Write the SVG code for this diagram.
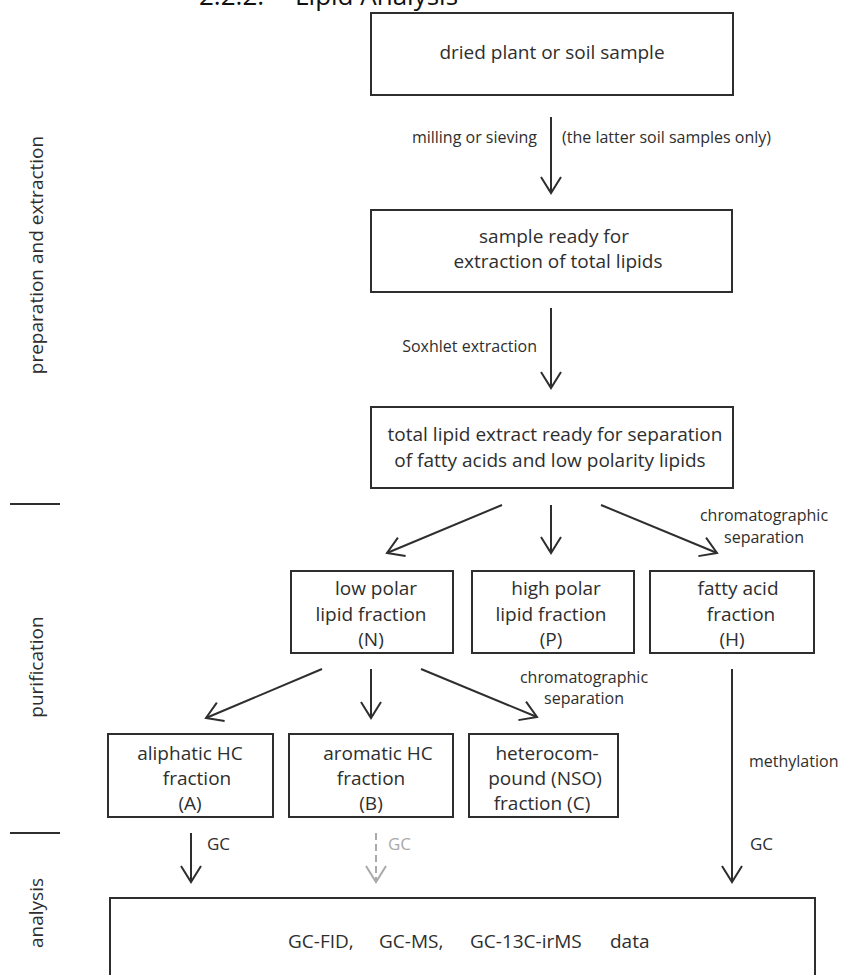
<svg xmlns="http://www.w3.org/2000/svg" width="842" height="975" viewBox="0 0 842 975">
<style>
  .box{fill:none;stroke:#2e2e2e;stroke-width:2}
  .t{font-family:"Open Sans","Liberation Sans",sans-serif;font-size:19px;fill:#2e2e2e;text-anchor:middle}
  .s{font-family:"Open Sans","Liberation Sans",sans-serif;font-size:16px;fill:#2e2e2e}
  .g{font-family:"Open Sans","Liberation Sans",sans-serif;font-size:17px;fill:#2e2e2e}
  .ln{fill:none;stroke:#2e2e2e;stroke-width:2;marker-end:url(#ah)}
  .side{font-family:"Open Sans","Liberation Sans",sans-serif;font-size:19px;fill:#2e2e2e;text-anchor:middle}
  .sep{stroke:#2e2e2e;stroke-width:2}
</style>
<defs>
  <marker id="ah" viewBox="-18 -12 20 24" refX="0" refY="0" markerWidth="20" markerHeight="24" orient="auto" markerUnits="userSpaceOnUse">
    <path d="M-16,-10 L0,0 L-16,10" fill="none" stroke="#2e2e2e" stroke-width="2"/>
  </marker>
  <marker id="ahg" viewBox="-18 -12 20 24" refX="0" refY="0" markerWidth="20" markerHeight="24" orient="auto" markerUnits="userSpaceOnUse">
    <path d="M-16,-10 L0,0 L-16,10" fill="none" stroke="#aaaaaa" stroke-width="2"/>
  </marker>
</defs>
<rect width="842" height="975" fill="#ffffff"/>

<text font-family="'Open Sans','Liberation Sans',sans-serif" font-size="26" fill="#111"><tspan x="199" y="5">2.2.2.</tspan><tspan x="295" y="5">Lipid Analysis</tspan></text>

<g id="side-labels">
  <text class="side" transform="translate(43,255) rotate(-90)">preparation and extraction</text>
  <text class="side" transform="translate(43,667) rotate(-90)">purification</text>
  <text class="side" transform="translate(43,913) rotate(-90)">analysis</text>
  <line class="sep" x1="10" y1="504" x2="60" y2="504"/>
  <line class="sep" x1="10" y1="833" x2="60" y2="833"/>
</g>

<g id="n-sample">
  <rect class="box" x="371" y="13" width="362" height="82"/>
  <text class="t" x="552" y="59">dried plant or soil sample</text>
</g>
<g id="n-ready">
  <rect class="box" x="371" y="210" width="361" height="82"/>
  <text class="t" x="554" y="243">sample ready for</text>
  <text class="t" x="558" y="268">extraction of total lipids</text>
</g>
<g id="n-tle">
  <rect class="box" x="371" y="407" width="362" height="81"/>
  <text class="t" x="555" y="441">total lipid extract ready for separation</text>
  <text class="t" x="550" y="467">of fatty acids and low polarity lipids</text>
</g>
<g id="n-N">
  <rect class="box" x="291" y="571" width="162" height="82"/>
  <text class="t" x="376" y="595">low polar</text>
  <text class="t" x="371" y="621">lipid fraction</text>
  <text class="t" x="371" y="646">(N)</text>
</g>
<g id="n-P">
  <rect class="box" x="472" y="571" width="162" height="82"/>
  <text class="t" x="556" y="595">high polar</text>
  <text class="t" x="551" y="621">lipid fraction</text>
  <text class="t" x="551" y="646">(P)</text>
</g>
<g id="n-H">
  <rect class="box" x="650" y="571" width="164" height="82"/>
  <text class="t" x="738" y="595">fatty acid</text>
  <text class="t" x="741" y="621">fraction</text>
  <text class="t" x="732" y="646">(H)</text>
</g>
<g id="n-A">
  <rect class="box" x="108" y="734" width="165" height="83"/>
  <text class="t" x="190" y="760">aliphatic HC</text>
  <text class="t" x="197" y="785">fraction</text>
  <text class="t" x="190" y="810">(A)</text>
</g>
<g id="n-B">
  <rect class="box" x="289" y="734" width="164" height="83"/>
  <text class="t" x="378" y="760">aromatic HC</text>
  <text class="t" x="371" y="785">fraction</text>
  <text class="t" x="371" y="810">(B)</text>
</g>
<g id="n-C">
  <rect class="box" x="469" y="734" width="149" height="83"/>
  <text class="t" x="547" y="760">heterocom-</text>
  <text class="t" x="545" y="785">pound (NSO)</text>
  <text class="t" x="542" y="810">fraction (C)</text>
</g>
<g id="n-data">
  <rect class="box" x="110" y="898" width="705" height="100"/>
  <text class="t" y="948" style="text-anchor:start"><tspan x="288">GC-FID,</tspan><tspan x="379">GC-MS,</tspan><tspan x="470">GC-13C-irMS</tspan><tspan x="610">data</tspan></text>
</g>

<g id="connectors">
  <line class="ln" x1="551" y1="117" x2="551" y2="193"/>
  <text class="s" x="537" y="143" text-anchor="end">milling or sieving</text>
  <text class="s" x="562" y="143">(the latter soil samples only)</text>

  <line class="ln" x1="551" y1="308" x2="551" y2="388"/>
  <text class="s" x="537" y="352" text-anchor="end">Soxhlet extraction</text>

  <line class="ln" x1="502" y1="505" x2="387" y2="553"/>
  <line class="ln" x1="551" y1="505" x2="551" y2="553"/>
  <line class="ln" x1="601" y1="505" x2="717" y2="553"/>
  <text class="s" x="764" y="521" text-anchor="middle">chromatographic</text>
  <text class="s" x="764" y="543" text-anchor="middle">separation</text>

  <line class="ln" x1="322" y1="669" x2="206" y2="718"/>
  <line class="ln" x1="371" y1="669" x2="371" y2="718"/>
  <line class="ln" x1="421" y1="669" x2="537" y2="717"/>
  <text class="s" x="584" y="683" text-anchor="middle">chromatographic</text>
  <text class="s" x="584" y="704" text-anchor="middle">separation</text>

  <line class="ln" x1="732" y1="669" x2="732" y2="882"/>
  <text class="s" x="749" y="767">methylation</text>

  <line class="ln" x1="191" y1="833" x2="191" y2="882"/>
  <text class="g" x="207" y="850">GC</text>
  <line x1="376" y1="833" x2="376" y2="882" fill="none" stroke="#aaaaaa" stroke-width="2" stroke-dasharray="7,4" marker-end="url(#ahg)"/>
  <text class="g" x="388" y="850" fill="#aaaaaa" style="fill:#aaaaaa">GC</text>
  <text class="g" x="750" y="850">GC</text>
</g>
</svg>
